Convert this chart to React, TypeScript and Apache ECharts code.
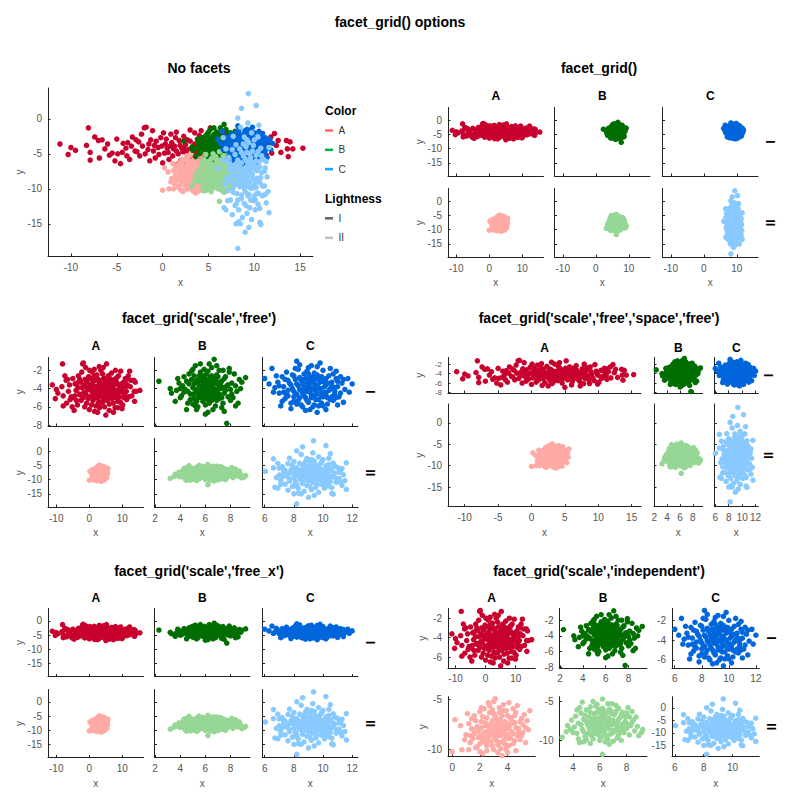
import React, { useEffect, useRef } from "react";
import * as echarts from "echarts";

// ---------------- data (x, y) ----------------
const aI: number[][] = [
  [-11.2,-3.6],[-10.3,-5.1],[-10.0,-4.1],[-9.5,-4.5],[-8.1,-1.3],[-8.3,-3.8],[-7.9,-4.8],[-7.9,-5.9],[-7.4,-2.6],[-7.0,-3.1],
  [-6.6,-3.0],[-6.9,-5.6],[-6.3,-4.3],[-5.2,-6.0],[-4.6,-6.4],[-5.5,-4.9],[-4.9,-5.0],[-4.3,-3.5],[-3.8,-3.4],[-3.3,-2.6],
  [-3.0,-4.6],[-2.5,-5.3],[-2.0,-1.3],[-1.1,-1.7],[-2.2,-3.9],[-1.6,-4.4],[-1.3,-3.0],[-0.8,-5.6],[-0.5,-4.1],[-0.2,-2.7],
  [0.0,-6.3],[0.3,-3.6],[0.6,-4.8],[0.9,-2.2],[1.1,-5.3],[1.3,-3.9],[1.5,-4.6],[1.8,-3.1],[2.0,-5.9],[2.1,-4.2],
  [2.3,-2.5],[2.5,-3.7],[2.6,-5.0],[2.8,-4.4],[3.0,-3.2],[3.1,-6.1],[3.3,-4.0],[3.5,-2.0],[3.6,-4.9],[3.8,-3.5],
  [4.0,-5.5],[4.1,-4.3],[4.3,-2.9],[4.5,-3.9],[4.6,-5.2],[4.8,-4.6],[5.0,-6.9],[5.2,-1.3],[5.3,-3.4],[5.5,-4.8],
  [5.7,-2.6],[5.9,-4.1],[6.1,-5.7],[6.3,-3.7],[6.5,-4.5],[6.7,-2.3],[6.9,-5.1],[7.1,-3.9],[7.4,-4.7],[7.6,-3.0],
  [7.8,-6.1],[8.1,-4.2],[8.3,-2.8],[8.6,-5.4],[8.9,-3.6],[9.2,-4.9],[9.5,-2.1],[9.8,-4.0],[10.1,-5.8],[10.4,-3.3],
  [10.7,-4.6],[11.0,-3.8],[11.3,-5.2],[11.5,-3.6],[11.8,-2.6],[12.2,-2.1],[12.6,-3.1],[12.9,-4.8],[13.5,-3.1],[13.9,-3.3],
  [13.6,-4.3],[14.2,-4.3],[13.7,-5.4],[15.3,-4.2],[-1.8,-1.2],[1.6,-6.5],[-3.6,-5.8],[7.3,-6.6],[9.9,-6.2],[4.2,-1.7],
  [2.9,-4.9],[0.5,-4.2],[3.9,-3.9],[1.0,-3.4],[5.1,-4.5],[6.0,-3.2],[-0.9,-3.8],[2.2,-4.7],[4.7,-3.4],[3.4,-5.6],
  [-4.0,-4.2],[-3.4,-3.9],[-2.8,-4.7],[-2.6,-3.3],[-2.3,-2.2],[-1.9,-5.0],[-1.5,-3.6],[-1.0,-4.6],[-0.7,-3.2],[-0.4,-5.1],
  [-0.1,-3.9],[0.2,-4.9],[0.4,-2.9],[0.7,-5.8],[0.8,-3.9],[1.2,-4.3],[1.4,-2.7],[1.7,-5.0],[1.9,-3.8],[2.4,-4.4],
  [2.7,-3.0],[2.8,-5.5],[3.2,-4.6],[3.5,-3.6],[3.7,-4.3],[4.0,-2.4],[4.2,-5.0],[4.4,-3.7],[4.9,-4.0],[5.1,-2.9],
  [5.4,-5.3],[5.6,-3.9],[5.8,-4.7],[6.2,-2.9],[6.4,-5.0],[6.6,-4.0],[6.8,-3.3],[7.0,-4.6],[7.2,-5.6],[7.5,-3.6],
  [7.7,-4.2],[8.0,-5.0],[8.2,-3.3],[8.5,-4.5],[8.8,-2.6],[9.0,-4.1],[9.4,-5.5],[9.7,-3.5],[10.0,-4.4],[10.5,-5.0],
  [10.9,-2.9],[11.2,-4.3],[11.9,-4.9],[12.4,-3.8],[-6.0,-3.6],[-5.8,-5.2],[-5.0,-2.9],[-4.4,-4.8],[-3.9,-5.3],[-2.9,-3.0],
  [1.5,-1.9],[3.0,-1.6],[6.0,-6.4],[2.5,-6.6],[-1.4,-6.0],[8.7,-6.1],[0.1,-2.0],[4.6,-6.0],[7.9,-2.0],[11.3,-3.0],
];
const bI: number[][] = [
  [2.3,-3.2],[6.7,-0.8],[7.7,-7.8],[9.2,-2.8],[8.9,-3.3],[8.6,-5.6],[8.4,-5.9],[3.2,-4.0],[3.3,-4.5],[3.6,-5.4],
  [3.9,-3.4],[4.1,-4.8],[4.3,-2.7],[4.4,-4.1],[4.6,-5.6],[4.7,-3.5],[4.8,-4.6],[4.9,-2.1],[5.0,-3.9],[5.1,-5.1],
  [5.2,-1.5],[5.3,-3.1],[5.3,-4.4],[5.4,-6.0],[5.5,-2.6],[5.5,-3.7],[5.6,-4.9],[5.7,-4.1],[5.7,-2.9],[5.8,-5.4],
  [5.8,-3.4],[5.9,-4.6],[5.9,-1.9],[6.0,-3.8],[6.0,-5.8],[6.1,-4.3],[6.1,-2.4],[6.2,-3.2],[6.2,-6.6],[6.3,-4.9],
  [6.3,-3.6],[6.4,-2.8],[6.4,-4.1],[6.5,-5.3],[6.5,-1.7],[6.6,-3.9],[6.7,-4.6],[6.7,-3.0],[6.8,-5.9],[6.9,-2.5],
  [6.9,-4.3],[7.0,-3.5],[7.1,-5.1],[7.1,-2.0],[7.2,-4.0],[7.3,-3.2],[7.4,-5.6],[7.5,-4.5],[7.6,-2.7],[7.7,-3.7],
  [7.8,-4.9],[7.9,-2.2],[8.0,-4.1],[8.1,-3.4],[8.2,-5.0],[8.3,-2.4],[8.5,-4.3],[8.7,-3.0],[4.5,-6.3],[5.2,-5.9],
  [6.0,-6.8],[6.6,-6.3],[7.3,-6.1],[5.0,-1.9],[4.2,-3.7],[3.7,-4.2],[4.0,-5.0],[7.9,-1.8],[6.3,-1.3],[5.6,-2.2],
  [6.8,-4.8],[6.2,-5.2],[5.4,-4.7],[7.0,-3.3],[5.9,-3.0],
  [4.5,-3.2],[4.6,-4.3],[4.8,-5.2],[4.9,-3.0],[5.0,-4.6],[5.1,-3.5],[5.1,-2.6],[5.2,-4.1],[5.3,-5.4],[5.4,-3.3],
  [5.5,-4.4],[5.5,-5.0],[5.6,-3.0],[5.6,-3.9],[5.7,-4.6],[5.8,-2.6],[5.8,-4.3],[5.9,-5.1],[5.9,-3.6],[6.0,-4.1],
  [6.0,-2.9],[6.1,-4.8],[6.1,-3.4],[6.2,-4.5],[6.2,-2.1],[6.3,-4.0],[6.3,-5.6],[6.4,-3.3],[6.4,-4.7],[6.5,-3.7],
  [6.5,-2.6],[6.6,-4.4],[6.6,-5.0],[6.7,-3.5],[6.8,-4.1],[6.8,-2.9],[6.9,-5.3],[7.0,-4.0],[7.0,-2.7],[7.1,-4.6],
  [7.2,-3.6],[7.3,-5.0],[7.4,-3.9],[7.5,-2.9],[7.6,-4.2],[7.8,-3.6],[8.0,-5.3],[8.1,-4.6],[4.3,-4.4],[4.0,-4.0],
  [3.8,-2.9],[4.7,-2.4],[5.3,-6.3],[7.5,-6.5],[8.8,-4.0],[8.4,-3.7],[5.0,-5.7],[6.9,-1.5],[5.6,-1.3],[7.4,-2.0],
];
const cI: number[][] = [
  [6.0,-2.9],[6.5,-1.8],[8.2,-1.0],[9.8,-1.2],[12.0,-3.5],[11.5,-4.1],[11.4,-5.5],[8.8,-6.4],[9.6,-6.6],[10.2,-6.3],
  [6.7,-3.9],[6.9,-3.3],[7.0,-4.5],[7.2,-2.7],[7.3,-3.8],[7.4,-5.1],[7.5,-2.2],[7.6,-4.2],[7.7,-3.4],[7.8,-5.6],
  [7.9,-4.0],[8.0,-2.6],[8.1,-4.7],[8.2,-3.5],[8.3,-5.3],[8.3,-1.9],[8.4,-4.1],[8.5,-3.1],[8.5,-5.8],[8.6,-4.5],
  [8.7,-2.4],[8.7,-3.8],[8.8,-5.0],[8.9,-3.3],[8.9,-4.3],[9.0,-1.7],[9.0,-5.5],[9.1,-3.9],[9.1,-2.8],[9.2,-4.7],
  [9.3,-3.4],[9.3,-6.0],[9.4,-4.1],[9.4,-2.3],[9.5,-5.2],[9.6,-3.7],[9.6,-4.6],[9.7,-2.9],[9.8,-4.0],[9.9,-5.6],
  [10.0,-3.2],[10.0,-2.0],[10.1,-4.4],[10.2,-3.6],[10.3,-5.0],[10.4,-2.6],[10.5,-4.0],[10.6,-3.3],[10.7,-5.3],[10.8,-4.6],
  [10.9,-2.9],[11.0,-3.8],[11.1,-4.9],[11.2,-2.7],[11.3,-3.4],[7.1,-5.9],[7.8,-6.2],[8.4,-1.4],[9.2,-1.5],[10.5,-1.8],
  [6.3,-3.5],[11.7,-2.9],[8.0,-4.9],[9.5,-3.0],[8.6,-3.0],[9.9,-4.8],[10.8,-3.9],[8.2,-5.7],[9.1,-6.3],[7.5,-4.7],
  [10.3,-5.7],[8.9,-2.1],[9.7,-5.9],[7.6,-3.1],[10.6,-4.9],
  [7.4,-3.0],[7.6,-4.8],[7.8,-3.6],[7.9,-2.5],[8.0,-4.3],[8.1,-3.0],[8.2,-4.6],[8.3,-3.7],[8.4,-5.0],[8.4,-2.8],
  [8.5,-4.2],[8.6,-3.5],[8.7,-4.8],[8.8,-2.9],[8.8,-4.0],[8.9,-5.3],[9.0,-3.6],[9.0,-2.4],[9.1,-4.4],[9.2,-3.2],
  [9.2,-5.0],[9.3,-4.0],[9.3,-2.7],[9.4,-4.8],[9.5,-3.6],[9.5,-4.3],[9.6,-2.5],[9.7,-5.2],[9.7,-3.9],[9.8,-3.3],
  [9.9,-4.3],[9.9,-2.7],[10.0,-4.9],[10.1,-3.8],[10.2,-2.9],[10.2,-4.6],[10.3,-3.4],[10.4,-4.2],[10.5,-5.2],[10.6,-3.7],
  [10.7,-2.4],[10.8,-4.3],[10.9,-5.0],[11.0,-3.2],[11.2,-4.5],[11.4,-3.0],[7.3,-4.4],[7.0,-3.7],[6.8,-2.6],[7.2,-5.4],
  [8.6,-6.0],[9.4,-5.8],[10.0,-5.9],[8.1,-1.8],[9.6,-1.6],[10.9,-2.1],[11.8,-4.4],[11.0,-5.8],[6.6,-4.4],[8.0,-5.4],
];
const aII: number[][] = [
  [0.0,-10.2],[0.2,-7.0],[0.7,-10.0],[2.0,-10.2],[3.1,-4.9],[4.1,-5.3],[5.6,-6.1],[5.3,-7.8],[3.6,-10.6],[1.0,-8.5],
  [1.2,-7.4],[1.3,-9.3],[1.5,-8.0],[1.6,-6.6],[1.7,-9.8],[1.8,-7.7],[1.9,-8.8],[2.0,-6.2],[2.1,-7.2],[2.2,-9.1],
  [2.3,-8.3],[2.3,-5.9],[2.4,-7.6],[2.5,-9.6],[2.5,-6.8],[2.6,-8.7],[2.7,-7.9],[2.7,-5.6],[2.8,-9.2],[2.9,-7.1],
  [2.9,-8.4],[3.0,-6.4],[3.0,-10.0],[3.1,-7.7],[3.1,-8.9],[3.2,-6.9],[3.3,-9.5],[3.3,-8.1],[3.4,-5.8],[3.4,-7.4],
  [3.5,-8.6],[3.5,-9.9],[3.6,-6.6],[3.6,-7.9],[3.7,-9.1],[3.8,-7.2],[3.8,-8.4],[3.9,-6.1],[3.9,-9.6],[4.0,-7.7],
  [4.1,-8.9],[4.2,-6.8],[4.3,-8.2],[4.4,-9.4],[4.5,-7.3],[4.6,-6.3],[4.7,-8.6],[4.8,-7.9],[4.9,-9.0],[5.0,-6.9],
  [5.1,-8.3],[5.3,-9.3],[5.4,-7.1],[0.9,-9.0],[1.4,-7.9],[1.1,-6.4],[2.2,-10.4],[4.0,-10.3],[4.6,-10.1],[2.6,-5.3],
  [3.7,-5.5],[4.4,-5.9],[2.0,-8.6],[3.2,-7.5],[2.8,-8.0],[3.5,-8.3],[4.2,-7.5],[2.4,-9.3],[3.9,-8.8],[1.6,-8.4],
  [1.5,-8.9],[1.7,-7.1],[1.9,-8.1],[2.0,-9.4],[2.1,-7.8],[2.2,-6.7],[2.3,-8.8],[2.4,-7.3],[2.5,-8.2],[2.6,-9.1],
  [2.6,-7.6],[2.7,-6.3],[2.8,-8.5],[2.8,-7.4],[2.9,-9.6],[3.0,-7.9],[3.0,-8.7],[3.1,-6.7],[3.1,-8.2],[3.2,-9.1],
  [3.3,-7.2],[3.3,-8.6],[3.4,-6.3],[3.4,-7.9],[3.5,-9.3],[3.5,-7.0],[3.6,-8.5],[3.7,-7.6],[3.7,-6.1],[3.8,-9.4],
  [3.8,-8.0],[3.9,-7.3],[4.0,-8.5],[4.0,-6.6],[4.1,-9.6],[4.1,-7.9],[4.2,-8.8],[4.3,-7.1],[4.4,-8.4],[4.5,-6.6],
  [4.5,-9.1],[4.6,-7.8],[4.8,-8.3],[4.9,-7.2],[5.0,-8.6],[5.2,-6.5],[1.8,-9.7],[1.3,-8.6],[1.2,-10.0],[2.5,-10.1],
  [3.3,-10.3],[3.9,-10.0],[2.1,-5.8],[3.0,-5.2],[4.7,-5.6],[5.1,-7.5],[0.6,-7.6],[1.4,-6.9],[5.5,-8.0],[2.9,-6.0],
];
const bII: number[][] = [
  [3.2,-9.6],[3.5,-8.9],[4.7,-5.1],[6.2,-4.7],[6.2,-11.8],[8.1,-5.8],[9.1,-9.0],[8.9,-9.4],[4.5,-10.3],[4.8,-10.2],
  [3.9,-7.4],[4.1,-8.3],[4.2,-6.9],[4.3,-9.1],[4.4,-7.8],[4.6,-6.5],[4.7,-8.6],[4.8,-7.3],[4.9,-9.5],[5.0,-6.1],
  [5.1,-8.0],[5.2,-7.0],[5.2,-9.0],[5.3,-5.7],[5.4,-8.4],[5.4,-7.5],[5.5,-9.8],[5.6,-6.6],[5.6,-8.8],[5.7,-7.9],
  [5.8,-5.4],[5.8,-7.2],[5.9,-9.3],[5.9,-8.2],[6.0,-6.3],[6.0,-10.0],[6.1,-7.6],[6.1,-8.6],[6.2,-5.9],[6.3,-9.0],
  [6.3,-7.0],[6.4,-8.1],[6.4,-6.5],[6.5,-9.6],[6.5,-7.7],[6.6,-5.3],[6.6,-8.5],[6.7,-7.2],[6.8,-9.2],[6.8,-6.2],
  [6.9,-8.0],[7.0,-7.4],[7.0,-10.1],[7.1,-6.7],[7.2,-8.7],[7.3,-7.8],[7.4,-5.9],[7.4,-9.3],[7.5,-7.1],[7.6,-8.3],
  [7.7,-6.4],[7.8,-9.0],[7.9,-7.6],[8.0,-8.5],[8.2,-7.0],[8.3,-8.1],[8.5,-7.4],[8.6,-8.8],[5.3,-10.4],[6.7,-10.5],
  [7.6,-10.0],[3.8,-8.6],[4.5,-5.8],[5.5,-5.0],[7.2,-5.5],[8.4,-6.3],[6.0,-7.1],[5.7,-8.0],[6.6,-7.6],[6.2,-8.3],
  [4.6,-8.0],[4.8,-8.9],[4.9,-6.8],[5.0,-7.6],[5.1,-9.2],[5.2,-8.4],[5.3,-6.4],[5.3,-7.8],[5.4,-9.4],[5.5,-7.2],
  [5.5,-8.6],[5.6,-7.9],[5.7,-9.1],[5.7,-6.5],[5.8,-8.3],[5.9,-7.6],[5.9,-6.0],[6.0,-8.8],[6.0,-7.9],[6.1,-9.6],
  [6.1,-6.8],[6.2,-7.4],[6.3,-8.5],[6.3,-6.2],[6.4,-9.2],[6.4,-7.3],[6.5,-8.4],[6.5,-6.6],[6.6,-9.9],[6.7,-8.0],
  [6.7,-6.0],[6.8,-7.5],[6.9,-8.7],[6.9,-6.6],[7.0,-9.0],[7.1,-7.9],[7.2,-6.3],[7.3,-8.4],[7.4,-7.3],[7.5,-8.9],
  [7.6,-6.7],[7.7,-7.9],[7.8,-8.4],[7.9,-7.0],[8.1,-8.0],[8.2,-9.3],[8.4,-7.7],[8.7,-7.0],[4.0,-9.0],[4.3,-6.1],
  [3.6,-8.1],[4.4,-9.8],[5.0,-9.9],[6.4,-10.2],[7.3,-9.7],[8.0,-6.5],[5.7,-5.6],[6.9,-5.3],[8.8,-8.2],[9.2,-8.6],
];
const cII: number[][] = [
  [9.35,3.6],[8.6,1.5],[10.2,1.9],[6.05,-7.1],[8.2,-18.5],[6.6,-2.7],[6.6,-5.9],[6.7,-12.7],[6.9,-13.0],[11.6,-4.1],
  [11.6,-13.4],[10.7,-15.1],[8.5,-15.0],[7.7,-2.5],[8.3,-14.7],[8.0,-15.0],[10.6,-14.8],[11.3,-12.0],
  [7.0,-8.4],[7.1,-10.3],[7.2,-5.5],[7.3,-7.3],[7.4,-11.6],[7.5,-8.9],[7.6,-4.4],[7.7,-9.8],[7.8,-6.6],[7.9,-12.4],
  [8.0,-7.9],[8.0,-3.7],[8.1,-10.7],[8.2,-5.9],[8.3,-8.8],[8.3,-13.0],[8.4,-6.9],[8.5,-1.2],[8.5,-9.6],[8.6,-4.8],
  [8.6,-11.4],[8.7,-7.6],[8.7,-14.1],[8.8,-5.3],[8.8,-9.1],[8.9,-2.6],[8.9,-12.1],[9.0,-7.0],[9.0,-10.4],[9.1,-4.0],
  [9.1,-8.3],[9.2,-13.5],[9.2,-6.1],[9.3,-11.0],[9.3,-0.6],[9.4,-8.9],[9.4,-3.4],[9.5,-7.4],[9.5,-12.7],[9.6,-5.6],
  [9.6,-9.9],[9.7,-2.0],[9.7,-14.4],[9.8,-7.9],[9.8,-4.6],[9.9,-11.7],[9.9,-6.5],[10.0,-9.4],[10.0,-3.0],[10.1,-13.0],
  [10.1,-7.2],[10.2,-5.2],[10.3,-10.6],[10.3,-8.5],[10.4,-2.6],[10.4,-12.2],[10.5,-6.2],[10.6,-9.1],[10.7,-4.2],[10.8,-7.7],
  [10.9,-11.0],[11.0,-5.8],[11.1,-9.6],[11.2,-7.0],[11.4,-8.3],[11.5,-10.4],[6.8,-9.3],[7.3,-6.4],[7.6,-13.7],[9.0,-16.2],
  [9.4,-15.5],[8.2,0.1],[10.5,-0.9],[8.9,-9.7],[9.7,-6.9],[9.2,-3.0],[10.1,-11.6],
  [7.2,-9.0],[7.4,-6.8],[7.6,-8.1],[7.7,-10.5],[7.8,-7.3],[7.9,-5.1],[8.0,-9.3],[8.1,-6.3],[8.1,-8.4],[8.2,-11.6],
  [8.3,-7.2],[8.4,-4.3],[8.4,-9.7],[8.5,-8.0],[8.6,-6.3],[8.6,-10.9],[8.7,-8.7],[8.8,-3.6],[8.8,-7.3],[8.9,-10.0],
  [9.0,-5.7],[9.0,-8.8],[9.1,-12.4],[9.1,-7.6],[9.2,-9.6],[9.2,-4.8],[9.3,-8.2],[9.3,-6.6],[9.4,-10.8],[9.4,-7.0],
  [9.5,-9.2],[9.5,-5.0],[9.6,-8.1],[9.6,-11.6],[9.7,-6.2],[9.8,-9.9],[9.8,-7.1],[9.9,-8.6],[9.9,-3.8],[10.0,-6.7],
  [10.0,-11.0],[10.1,-8.8],[10.2,-6.0],[10.2,-9.8],[10.3,-7.4],[10.4,-4.7],[10.4,-8.9],[10.5,-10.7],[10.6,-6.9],[10.7,-8.4],
  [10.8,-5.3],[10.9,-9.6],[11.1,-7.5],[11.3,-6.1],[7.0,-6.0],[7.1,-11.7],[6.9,-4.3],[11.2,-10.8],[8.0,-12.2],[10.6,-12.8],
];

// ---------------- tick labels ----------------
const ticksX5 = [-10, -5, 0, 5, 10, 15];
const ticksX10 = [-10, 0, 10];
const ticksYFull = [-15, -10, -5, 0];
const ticksYRowI = [-8, -6, -4, -2];
const ticksXB = [2, 4, 6, 8];
const ticksXC = [6, 8, 10, 12];
const ticksYAI = [-6, -4, -2];
const ticksYCI = [-6, -4, -2];
const ticksXAII = [0, 2, 4];
const ticksYAII = [-10, -5];
const ticksXBII = [4, 6, 8];
const ticksYBII = [-10, -5];
const ticksXCII = [6, 8, 10];

const colorNames = ["A", "B", "C"];
const lightNames = ["I", "II"];

// ---------------- styles / layout ----------------
const FONT = "'Liberation Sans', Arial, Helvetica, sans-serif";
const COLS = [
  ["#c8002e", "#006e00", "#0066dc"],
  ["#ffaaa5", "#96d796", "#88c9ff"],
];
const LEGEND_COLORS = ["#ff6e6e", "#00b04c", "#17a5ff"];
const LEGEND_LIGHT = ["#6a6a6a", "#c4c4c4"];

type R = [number, number];
const FX: R = [-12.5, 16.4];
const FY: R = [-19.6, 4.4];
const RY1: R = [-8.1, -0.6];
const BX: R = [1.95, 9.55];
const CX: R = [5.85, 12.4];

const App: React.FC = () => {
  const ref = useRef<HTMLDivElement>(null);

  useEffect(() => {
    document.body.style.margin = "0";
    if (!ref.current) return;
    const chart = echarts.init(ref.current, null, { renderer: "svg", width: 800, height: 800 });
    const groups = [
      [aI, bI, cI],
      [aII, bII, cII],
    ];

    const grids: any[] = [];
    const xAxes: any[] = [];
    const yAxes: any[] = [];
    const series: any[] = [];
    const graphics: any[] = [];
    // axes whose labels are too tight for ECharts' own label layout: placed via convertToPixel
    const manualY: { g: number; x0: number; left: number; ticks: number[]; fs: number }[] = [];

    const axis = (range: R, ticks: number[], show: boolean, pos: string, fs = 10) => ({
      type: "value",
      position: pos,
      min: range[0],
      max: range[1],
      axisLine: { show: true, onZero: false, lineStyle: { color: "#222", width: 1 } },
      axisTick: { show: true, inside: true, length: 2.5, customValues: ticks, lineStyle: { color: "#222", width: 1 } },
      axisLabel: {
        show: show,
        customValues: ticks,
        fontSize: fs,
        color: "#555",
        margin: 6,
        fontFamily: FONT,
        hideOverlap: false,
        showMinLabel: true,
        showMaxLabel: true,
      },
      splitLine: { show: false },
    });

    const addCell = (
      left: number, top: number, width: number, height: number,
      xr: R, yr: R, xt: number[], yt: number[], showX: boolean, showY: boolean,
      sets: { data: number[][]; color: string }[], manual = false
    ) => {
      const g = grids.length;
      grids.push({ left, top, width, height, containLabel: false, outerBoundsMode: "none" });
      xAxes.push({ gridIndex: g, ...axis(xr, xt, showX, "bottom") });
      yAxes.push({ gridIndex: g, ...axis(yr, yt, showY && !manual, "left") });
      if (manual && showY) manualY.push({ g, x0: xr[0], left, ticks: yt, fs: 8 });
      sets.forEach((s) => {
        series.push({
          type: "scatter",
          xAxisIndex: g,
          yAxisIndex: g,
          data: s.data,
          symbolSize: 5.5,
          itemStyle: { color: s.color, opacity: 1 },
          silent: true,
        });
      });
    };

    const txt = (text: string, x: number, y: number, size: number, bold: boolean, color = "#000", rotation = 0, align = "center", lh?: number) => ({
      type: "text",
      x,
      y,
      rotation,
      silent: true,
      style: {
        text,
        fill: color,
        fontSize: size,
        fontWeight: bold ? "bold" : "normal",
        fontFamily: FONT,
        align,
        verticalAlign: "middle",
        textAlign: align,
        textVerticalAlign: "middle",
        ...(lh ? { lineHeight: lh } : {}),
      },
    });

    // ---- Panel 1: No facets
    addCell(48, 88, 265, 168, FX, FY, ticksX5, ticksYFull, true, true, [
      { data: aI, color: COLS[0][0] },
      { data: aII, color: COLS[1][0] },
      { data: bI, color: COLS[0][1] },
      { data: bII, color: COLS[1][1] },
      { data: cI, color: COLS[0][2] },
      { data: cII, color: COLS[1][2] },
    ]);
    graphics.push(txt("No facets", 199, 68, 14, true));
    graphics.push(txt("x", 180.5, 282, 10, false, "#555"));
    graphics.push(txt("y", 19, 172, 10, false, "#555", Math.PI / 2));
    graphics.push(txt("Color", 325, 111, 12, true, "#000", 0, "left"));
    colorNames.forEach((n, i) => {
      const y = 130.5 + i * 19.3;
      graphics.push({ type: "rect", silent: true, shape: { x: 325, y: y - 1.3, width: 8, height: 2.6 }, style: { fill: LEGEND_COLORS[i] } });
      graphics.push(txt(n, 338.5, y, 10, false, "#333", 0, "left"));
    });
    graphics.push(txt("Lightness", 325, 199, 12, true, "#000", 0, "left"));
    lightNames.forEach((n, i) => {
      const y = 218.3 + i * 19.5;
      graphics.push({ type: "rect", silent: true, shape: { x: 325, y: y - 1.3, width: 8, height: 2.6 }, style: { fill: LEGEND_LIGHT[i] } });
      graphics.push(txt(n, 338.5, y, 10, false, "#333", 0, "left"));
    });

    // generic facet panel
    const facet = (
      title: string, titleX: number, titleY: number,
      colRects: number[][], rowRects: number[][],
      colTitleY: number, rowLabelX: number, yLabelX: number, xLabelY: number,
      cell: (r: number, c: number) => { xr: R; yr: R; xt: number[]; yt: number[]; sx: boolean; sy: boolean; manual?: boolean }
    ) => {
      graphics.push(txt(title, titleX, titleY, 14, true));
      for (let r = 0; r < 2; r++) {
        for (let c = 0; c < 3; c++) {
          const d = cell(r, c);
          addCell(colRects[c][0], rowRects[r][0], colRects[c][1], rowRects[r][1], d.xr, d.yr, d.xt, d.yt, d.sx, d.sy, [
            { data: groups[r][c], color: COLS[r][c] },
          ], !!d.manual);
        }
        graphics.push(txt(lightNames[r], rowLabelX, rowRects[r][0] + rowRects[r][1] / 2, 13, true, "#000", -Math.PI / 2));
        graphics.push(txt("y", yLabelX, rowRects[r][0] + rowRects[r][1] / 2, 10, false, "#555", Math.PI / 2));
      }
      for (let c = 0; c < 3; c++) {
        graphics.push(txt(colorNames[c], colRects[c][0] + colRects[c][1] / 2, colTitleY, 12, true));
        graphics.push(txt("x", colRects[c][0] + colRects[c][1] / 2, xLabelY, 10, false, "#555"));
      }
    };

    const leftCols = [[48, 95.5], [154.5, 95.5], [262.5, 95.5]];
    const rightCols = [[448, 95.5], [554.5, 95.5], [662.5, 95.5]];
    const freeXR = [FX, BX, CX];
    const freeXT = [ticksX10, ticksXB, ticksXC];

    // ---- Panel 2: facet_grid()
    facet("facet_grid()", 599, 68, rightCols, [[107.5, 68.5], [188.5, 68.5]], 96, 770, 419, 282,
      (r, c) => ({ xr: FX, yr: FY, xt: ticksX10, yt: ticksYFull, sx: r === 1, sy: c === 0 }));

    // ---- Panel 3: scale free
    facet("facet_grid('scale','free')", 199, 318, leftCols, [[357.5, 68.5], [438.5, 68.5]], 345.7, 370, 19, 532,
      (r, c) => ({ xr: freeXR[c], yr: r === 0 ? RY1 : FY, xt: freeXT[c], yt: r === 0 ? ticksYRowI : ticksYFull, sx: r === 1, sy: c === 0 }));

    // ---- Panel 4: scale free, space free
    facet("facet_grid('scale','free','space','free')", 599, 318,
      [[448, 193], [654, 48.7], [714.3, 44]], [[357.5, 35.5], [404, 102.7]], 348.3, 768.3, 419, 532,
      (r, c) => ({
        xr: freeXR[c], yr: r === 0 ? RY1 : FY, xt: c === 0 ? ticksX5 : freeXT[c],
        yt: r === 0 ? ticksYRowI : ticksYFull, sx: r === 1, sy: c === 0, manual: r === 0,
      }));

    // ---- Panel 5: free_x
    facet("facet_grid('scale','free_x')", 199, 570.7, leftCols, [[608.5, 68], [689.5, 68]], 598.3, 370, 19, 783,
      (r, c) => ({ xr: freeXR[c], yr: FY, xt: freeXT[c], yt: ticksYFull, sx: r === 1, sy: c === 0 }));

    // ---- Panel 6: independent
    const indep: { xr: R; yr: R; xt: number[]; yt: number[] }[][] = [
      [
        { xr: [-12.5, 16.5], yr: [-7.1, -1.0], xt: ticksX10, yt: ticksYAI },
        { xr: [1.95, 9.6], yr: [-8.1, -0.5], xt: ticksXB, yt: ticksYRowI },
        { xr: [5.8, 12.25], yr: [-6.8, -0.8], xt: ticksXC, yt: ticksYCI },
      ],
      [
        { xr: [-0.3, 6.0], yr: [-10.7, -4.7], xt: ticksXAII, yt: ticksYAII },
        { xr: [3.0, 9.5], yr: [-12.1, -4.4], xt: ticksXBII, yt: ticksYBII },
        { xr: [5.8, 11.85], yr: [-19.5, 4.5], xt: ticksXCII, yt: ticksYFull },
      ],
    ];
    facet("facet_grid('scale','independent')", 599, 570.7,
      [[448, 87.3], [559.5, 87.3], [672, 87.3]], [[608.5, 59.3], [696.7, 60]], 598.3, 771.7, 422.7, 783,
      (r, c) => ({ ...indep[r][c], sx: true, sy: true }));

    // main title
    graphics.push(txt("facet_grid() options", 400, 22, 14, true));

    chart.setOption({
      animation: false,
      backgroundColor: "#ffffff",
      textStyle: { fontFamily: FONT },
      grid: grids,
      xAxis: xAxes,
      yAxis: yAxes,
      series,
      graphic: { elements: graphics },
    });

    // tight tick labels placed with the axis's own scale
    const extra: any[] = [];
    manualY.forEach((m) => {
      m.ticks.forEach((v) => {
        const p = chart.convertToPixel({ gridIndex: m.g } as any, [m.x0, v]) as number[];
        if (p && isFinite(p[1])) {
          extra.push(txt(String(v), m.left - 6, p[1], m.fs, false, "#555", 0, "right", 8));
        }
      });
    });
    if (extra.length) {
      chart.setOption({ graphic: { elements: [...graphics, ...extra] } });
    }

    return () => {
      chart.dispose();
    };
  }, []);

  return <div ref={ref} style={{ width: 800, height: 800 }} />;
};

export default App;
